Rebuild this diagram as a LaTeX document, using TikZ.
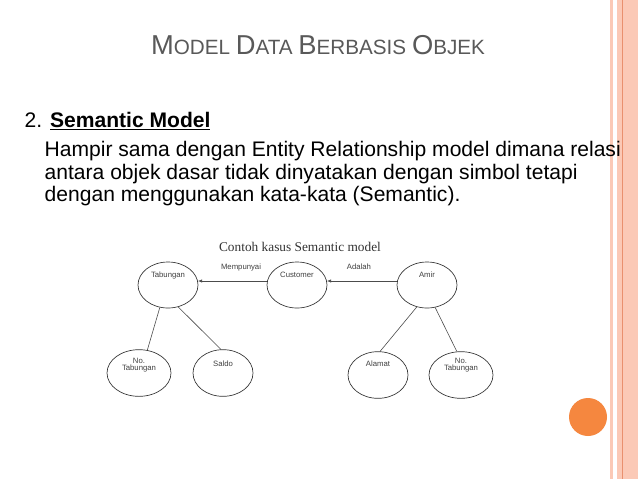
\documentclass[tikz,border=0pt]{standalone}
\usepackage{fontspec}
\setmainfont{Liberation Sans}
\newfontfamily\serifcap{Liberation Serif}
\usetikzlibrary{shapes.geometric,arrows.meta}
\definecolor{salmon}{HTML}{FBC9B6}
\definecolor{salmondk}{HTML}{E9906E}
\definecolor{dotorange}{HTML}{F5873F}
\definecolor{titlegrey}{HTML}{595959}
\tikzset{
  ent/.style={draw=black!80,line width=0.5pt,ellipse},
  lbl/.style={font=\fontsize{5.8}{6.5}\selectfont,text=black!75,align=center},
  rel/.style={draw=black!70,line width=0.45pt},
  arr/.style={rel,-{Latex[length=3pt,width=2.5pt]}},
  bodytxt/.style={anchor=base west,font=\fontsize{15.8}{19}\selectfont}
}
\newcommand{\bigc}{\fontsize{20.5}{22}\selectfont}
\newcommand{\smc}{\fontsize{15.5}{17}\selectfont}
\begin{document}
\begin{tikzpicture}[x=0.75pt,y=-0.75pt]
\useasboundingbox (0,0) rectangle (638,479);
\fill[white] (0,0) rectangle (638,479);
% right decoration
\fill[salmon] (610,0) rectangle (613,479);
\fill[salmon] (617,0) rectangle (638,479);
\draw[salmondk,line width=0.6pt] (622,0) -- (622,479);
\fill[dotorange] (588,417) circle (19);
% title
\node[text=titlegrey,anchor=base] (title) at (318,54) {\bigc M\smc ODEL \bigc D\smc ATA \bigc B\smc ERBASIS \bigc O\smc BJEK};
\node[bodytxt] (head) at (20,127) {2. \textbf{\underline{Semantic Model}}};
\node[bodytxt] (body) at (40,156) {Hampir sama dengan Entity Relationship model dimana relasi};
\node[bodytxt] (body2) at (40,179) {antara objek dasar tidak dinyatakan dengan simbol tetapi};
\node[bodytxt] (body3) at (40,201) {dengan menggunakan kata-kata (Semantic).};
% diagram
\node[font=\serifcap\fontsize{10}{11}\selectfont,text=black!80] (cap) at (300,247) {Contoh kasus Semantic model};
\node[ent,minimum width=45pt,minimum height=34.5pt] (tab) at (168,285) {};
\node[ent,minimum width=45pt,minimum height=34.5pt] (cus) at (297,285) {};
\node[ent,minimum width=45pt,minimum height=34.5pt] (amir) at (427,285) {};
\node[ent,minimum width=48pt,minimum height=35pt] (nt1) at (139,373) {};
\node[ent,minimum width=45pt,minimum height=35pt] (sal) at (223,373) {};
\node[ent,minimum width=45pt,minimum height=35pt] (ala) at (378,375) {};
\node[ent,minimum width=48pt,minimum height=35pt] (nt2) at (461,375) {};
\node[lbl] (ltab) at (168,275) {Tabungan};
\node[lbl] (lcus) at (297,275) {Customer};
\node[lbl] (lamir) at (427,275) {Amir};
\node[lbl] (lnt1) at (139,365) {No.\\[-1.5pt]Tabungan};
\node[lbl] (lsal) at (223,364) {Saldo};
\node[lbl] (lala) at (378,364) {Alamat};
\node[lbl] (lnt2) at (461,365) {No.\\[-1.5pt]Tabungan};
\node[lbl] (mp) at (241,267) {Mempunyai};
\node[lbl] (ad) at (359,267) {Adalah};
\coordinate (a1) at (397,281); \coordinate (a1e) at (327,281);
\coordinate (a2) at (267,281); \coordinate (a2e) at (198,281);
\draw[arr] (a1) -- (a1e);
\draw[arr] (a2) -- (a2e);
\draw[rel] (tab.250) -- (nt1.70);
\draw[rel] (tab.295) -- (sal.95);
\draw[rel] (amir.245) -- (ala.85);
\draw[rel] (amir.290) -- (nt2.100);
\end{tikzpicture}
\end{document}
